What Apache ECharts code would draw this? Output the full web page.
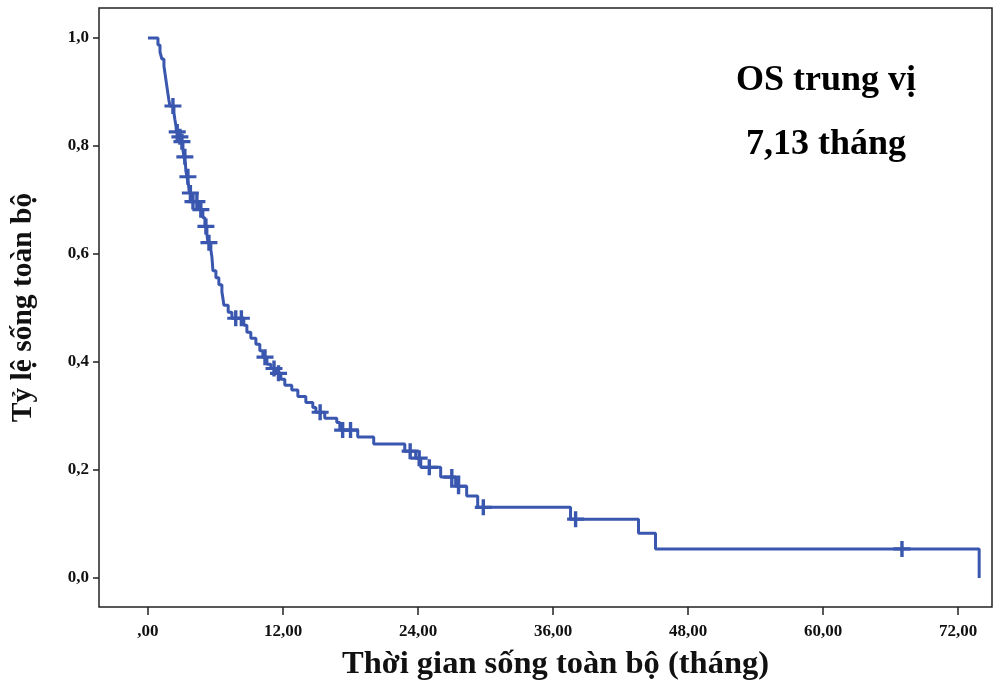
<!DOCTYPE html>
<html>
<head>
<meta charset="utf-8">
<script src="https://cdn.jsdelivr.net/npm/echarts@6/dist/echarts.min.js"></script>
<style>
html,body{margin:0;padding:0;background:#fff;}
#chart{width:998px;height:686px;}
</style>
</head>
<body>
<div id="chart"></div>
<script>
// Kaplan-Meier event times (months) and survival after each event
var eventTimes = [0.89,1.07,1.24,1.42,1.51,1.60,1.69,1.78,1.86,1.95,
  2.31,2.40,2.49,2.53,2.75,2.93,3.11,3.20,3.33,3.37,
  3.46,3.60,3.68,3.91,4.53,4.88,5.06,5.24,5.33,5.59,
  5.68,5.73,5.77,6.04,6.30,6.57,6.66,6.75,7.13,7.46,
  8.52,8.79,9.14,9.59,9.94,10.21,10.57,10.92,11.36,11.81,
  12.16,12.78,13.32,14.03,14.65,14.92,15.71,16.78,17.05,18.64,
  20.06,22.82,23.79,24.24,26.01,27.34,28.32,29.30,37.55,43.59,
  45.10,73.86];
var survival = [0.987,0.974,0.961,0.948,0.935,0.922,0.909,0.896,0.885,0.874,
  0.861,0.848,0.837,0.826,0.817,0.808,0.793,0.780,0.767,0.754,
  0.743,0.728,0.713,0.697,0.682,0.667,0.651,0.636,0.621,0.608,
  0.595,0.582,0.569,0.556,0.543,0.530,0.518,0.505,0.492,0.481,
  0.468,0.455,0.444,0.433,0.421,0.409,0.396,0.388,0.379,0.368,
  0.357,0.348,0.336,0.325,0.316,0.307,0.296,0.288,0.274,0.261,
  0.248,0.235,0.222,0.205,0.187,0.170,0.152,0.131,0.109,0.083,
  0.054,0.0];
// censored observation times (months)
var censorTimes = [2.22,2.60,2.84,3.02,3.28,3.55,3.77,4.0,4.35,4.7,5.15,5.42,
  7.8,8.3,10.4,11.2,11.6,15.3,17.3,18.0,23.3,24.1,25.0,27.0,27.6,29.8,38.0,67.0];
var xTicks = [0,12,24,36,48,60,72];
var yTicks = [0,0.2,0.4,0.6,0.8,1.0];
var annotationLines = ['OS trung vị','7,13 tháng'];
var xTitle = 'Thời gian sống toàn bộ (tháng)';
var yTitle = 'Tỷ lệ sống toàn bộ';

function survAt(t){
  var s = 1;
  for (var i=0;i<eventTimes.length;i++){ if (eventTimes[i] <= t) s = survival[i]; }
  return s;
}
var stepData = [[0,1]];
var prev = 1;
for (var i=0;i<eventTimes.length;i++){
  stepData.push([eventTimes[i], prev]);
  stepData.push([eventTimes[i], survival[i]]);
  prev = survival[i];
}
var censorData = censorTimes.map(function(t){ return [t, survAt(t)]; });

var blue = '#3A57AF';
var font = '"Liberation Serif","Times New Roman",serif';
var chart = echarts.init(document.getElementById('chart'), null, {renderer:'canvas'});
chart.setOption({
  backgroundColor:'#fff',
  animation:false,
  grid:{left:98,right:6,top:8,bottom:78,show:true,borderColor:'#222',borderWidth:1.5,backgroundColor:'transparent'},
  xAxis:{
    type:'value', min:-4.35, max:75.0,
    splitLine:{show:false},
    axisLine:{show:false,onZero:false},
    axisTick:{show:true,length:8,customValues:xTicks,lineStyle:{color:'#222',width:1.5}},
    axisLabel:{customValues:xTicks,margin:16,color:'#111',fontFamily:font,fontWeight:'bold',fontSize:17,
      formatter:function(v){ return v===0 ? ',00' : v.toFixed(2).replace('.',','); }},
    name:xTitle, nameLocation:'middle', nameGap:41,
    nameTextStyle:{color:'#111',fontFamily:font,fontWeight:'bold',fontSize:32.5,padding:[0,0,0,20]}
  },
  yAxis:{
    type:'value', min:-0.0536, max:1.0555,
    splitLine:{show:false},
    axisLine:{show:false,onZero:false},
    axisTick:{show:true,length:6,customValues:yTicks,lineStyle:{color:'#222',width:1.5}},
    axisLabel:{customValues:yTicks,margin:10,color:'#111',fontFamily:font,fontWeight:'bold',fontSize:17,
      formatter:function(v){ return v.toFixed(1).replace('.',','); }},
    name:yTitle, nameLocation:'middle', nameGap:61,
    nameTextStyle:{color:'#111',fontFamily:font,fontWeight:'bold',fontSize:29.5}
  },
  series:[
    {type:'line', data:stepData, showSymbol:false, symbol:'none',
      lineStyle:{color:blue,width:3}, z:3},
    {type:'scatter', data:censorData,
      symbol:'path://M0,6.4H6.4V0H9.6V6.4H16V9.6H9.6V16H6.4V9.6H0Z',
      symbolSize:[17,16], itemStyle:{color:blue,opacity:1}, z:4}
  ],
  graphic:[
    {type:'text', x:826, y:81, style:{text:annotationLines[0], x:0, y:0, align:'center', verticalAlign:'middle',
      fill:'#000', font:'bold 36px '+font}},
    {type:'text', x:826, y:145, style:{text:annotationLines[1], x:0, y:0, align:'center', verticalAlign:'middle',
      fill:'#000', font:'bold 36px '+font}}
  ]
});
</script>
</body>
</html>
